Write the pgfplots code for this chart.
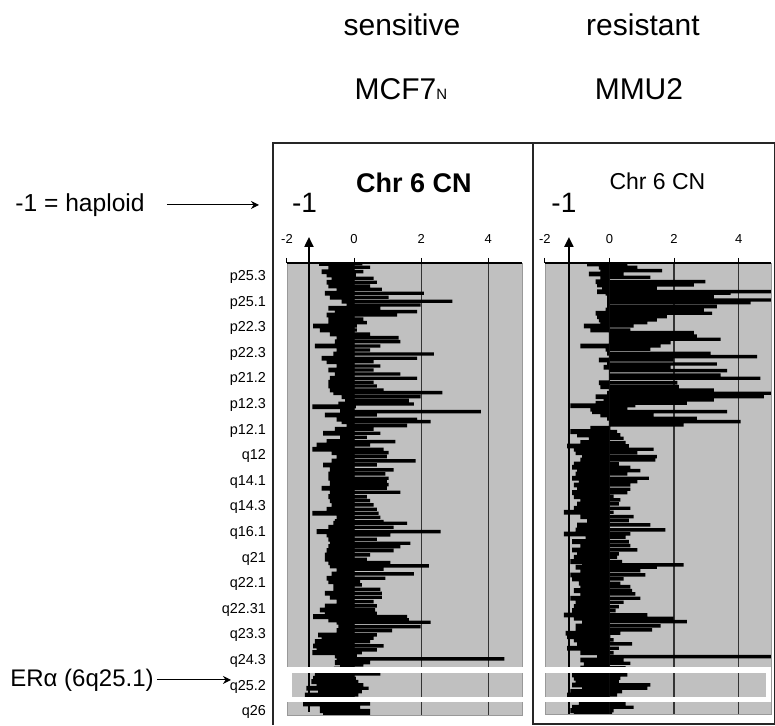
\documentclass[border=0pt]{standalone}
\usepackage{pgfplots}
\pgfplotsset{compat=1.18}
\usepackage{pgfplotstable}
\usepackage{fontspec}
\setmainfont{Liberation Sans}
\usetikzlibrary{arrows.meta}
\definecolor{panelgray}{HTML}{C0C0C0}

% copy-number profiles: y = row position (px of the figure), neg/pos = extent of the row
\pgfplotstableread{
y neg pos
263.5 -1.04 0.25
267.3 -0.77 0.48
271.7 -0.97 0.28
275.0 -0.82 0.05
278.3 -0.67 0.58
282.3 -0.82 0.68
286.0 -0.77 0.48
289.3 -0.52 0.83
293.3 -0.87 2.08
297.3 -0.72 1.03
301.3 -0.37 2.93
305.0 -0.22 1.98
308.3 -0.77 0.78
311.7 -0.57 1.88
315.0 -0.82 1.28
319.0 -0.77 0.28
322.7 -0.77 0.38
326.0 -1.22 0.08
330.0 -1.02 0.08
334.0 -0.72 0.48
337.7 -0.52 1.33
341.7 -0.57 1.38
346.0 -1.17 0.78
350.0 -0.52 0.48
354.0 -0.62 2.38
358.3 -0.97 1.88
361.7 -0.82 0.58
366.0 -0.52 0.78
370.0 -0.77 0.58
374.0 -0.57 1.38
378.3 -0.72 1.88
382.3 -0.77 0.58
386.0 -0.77 0.68
390.0 -0.72 0.88
392.7 -0.62 2.63
396.7 -0.37 1.98
400.7 -0.27 1.63
404.0 -0.47 1.78
406.7 -1.24 0.05
411.7 -0.42 3.78
415.0 -0.87 0.68
419.3 -0.52 1.88
421.7 -0.37 2.28
425.7 -0.22 1.58
429.3 -0.57 0.58
433.3 -0.92 0.78
437.3 -0.42 0.38
441.7 -0.82 1.23
445.0 -1.12 0.48
449.3 -1.24 0.88
452.7 -0.67 1.03
456.7 -0.52 0.98
461.0 -0.67 1.83
465.0 -0.92 0.68
470.0 -0.72 1.18
474.0 -0.77 0.93
478.3 -0.77 1.03
481.7 -0.72 0.98
484.7 -0.72 1.03
488.3 -0.97 0.98
492.3 -0.72 1.38
496.7 -0.77 0.38
500.7 -0.72 0.48
505.0 -0.67 0.58
509.3 -0.82 0.68
513.3 -1.24 0.73
517.3 -0.52 0.78
521.7 -0.57 0.88
523.3 -0.62 1.58
527.3 -0.77 1.18
531.7 -1.12 2.58
535.0 -0.82 1.08
539.3 -0.77 0.68
543.3 -0.72 1.68
546.7 -0.77 1.38
550.7 -0.82 1.18
555.0 -0.87 0.48
559.3 -0.87 0.38
562.7 -0.77 1.08
566.0 -0.72 2.23
569.3 -0.52 0.88
574.0 -0.67 1.78
578.3 -0.82 0.93
581.7 -0.77 0.18
585.0 -0.62 0.23
589.3 -0.62 0.78
593.3 -0.87 0.83
597.3 -0.72 0.83
601.7 -0.52 0.58
606.0 -0.87 0.68
610.0 -1.02 0.63
613.3 -0.87 0.68
616.7 -1.22 1.58
620.0 -0.77 1.63
622.3 -0.52 2.28
626.7 -0.47 1.98
630.7 -0.52 1.13
635.0 -1.07 0.68
638.3 -0.97 0.58
641.7 -1.17 0.48
646.0 -1.22 0.88
650.0 -1.12 0.68
652.7 -1.24 0.23
656.0 -0.57 0.08
659.0 -0.52 4.48
662.7 -0.57 0.48
665.0 -0.42 0.28
669.0 -0.60 0.30
674.0 -1.17 0.78
678.3 -1.22 0.05
681.7 -1.27 0.13
685.0 -1.12 0.28
688.3 -1.42 0.43
691.7 -1.07 0.23
695.0 -1.47 0.13
699.0 -1.00 0.30
704.0 -1.52 0.48
707.7 -1.02 0.18
710.7 -1.02 0.48
713.3 -0.92 0.48
}\leftcn

\pgfplotstableread{
y neg pos
264.0 -0.69 0.55
267.3 -0.33 0.86
270.7 -0.28 1.63
274.0 -0.64 0.44
277.3 -0.28 1.27
281.7 -0.43 2.97
285.0 -0.38 2.61
288.3 -0.23 1.47
291.7 -0.38 5.20
293.3 -0.12 3.75
296.7 -0.07 3.23
300.0 -0.07 5.20
302.7 -0.07 4.37
306.7 -0.07 3.33
310.0 -0.12 2.92
313.3 -0.43 3.18
316.7 -0.38 1.78
320.0 -0.33 1.47
322.7 -0.28 1.17
326.0 -0.79 0.75
330.0 -0.59 0.65
332.7 -0.02 2.61
336.0 -0.02 2.71
339.3 -0.02 3.44
342.7 -0.02 1.89
346.0 -0.90 1.58
349.3 -0.12 1.27
353.3 -0.07 3.13
356.7 -0.02 4.57
360.0 -0.33 1.99
364.0 -0.07 3.33
367.3 -0.18 1.89
370.7 -0.02 3.64
375.0 -0.02 3.44
378.3 -0.02 4.67
382.7 -0.33 2.10
386.7 -0.28 2.15
390.0 -0.02 3.23
393.3 -0.07 5.20
396.7 -0.43 4.78
400.0 -0.18 3.23
403.3 -0.43 2.40
405.7 -1.21 0.80
409.3 -0.59 0.55
411.7 -0.54 3.64
415.0 -0.28 1.37
418.3 -0.07 2.71
421.7 -0.02 4.06
425.0 -0.02 2.30
428.3 -0.59 0.03
431.7 -1.21 0.24
435.0 -1.00 0.34
438.3 -0.64 0.44
442.7 -0.90 0.50
446.0 -1.31 0.60
449.3 -1.10 1.37
452.7 -1.05 0.86
456.7 -0.85 1.47
460.0 -0.90 1.42
464.0 -1.10 0.29
467.3 -1.16 0.65
470.7 -1.00 0.96
474.0 -1.05 0.55
478.3 -1.16 1.22
481.7 -0.95 0.86
485.0 -1.10 0.65
489.3 -1.00 0.65
492.7 -1.16 0.55
496.7 -1.10 0.13
500.0 -0.90 0.34
504.0 -1.00 0.29
508.3 -1.10 0.65
512.3 -1.41 0.13
516.7 -0.90 0.75
520.7 -0.69 0.60
525.0 -1.00 1.27
530.0 -1.05 1.73
534.0 -1.41 0.65
537.3 -0.74 0.50
541.7 -1.16 0.60
545.7 -0.90 0.65
550.0 -1.16 0.86
554.0 -1.00 0.29
557.3 -1.10 0.24
561.7 -1.21 0.39
565.0 -0.85 2.30
567.3 -1.05 1.47
570.7 -0.90 0.96
575.0 -1.21 1.11
579.0 -1.16 0.44
583.3 -0.95 0.34
586.7 -0.90 0.65
590.7 -1.10 0.70
594.0 -0.90 0.80
598.3 -1.21 0.96
602.3 -1.05 0.44
606.7 -1.10 0.29
610.7 -1.16 0.19
615.0 -1.41 1.17
618.3 -1.10 1.99
621.7 -0.85 2.40
626.0 -1.05 1.58
630.0 -1.05 1.32
633.3 -1.36 0.34
636.7 -1.31 0.03
640.0 -1.10 0.13
644.0 -1.00 0.70
648.3 -1.31 0.29
652.7 -0.90 0.13
656.7 -0.38 5.20
660.0 -0.90 0.44
663.3 -0.79 0.65
668.0 -0.90 0.50
675.0 -1.16 0.55
678.3 -1.10 0.34
681.7 -1.05 0.29
685.0 -1.16 1.27
688.3 -0.85 1.17
691.7 -1.21 0.39
695.0 -1.31 0.24
699.0 -1.00 0.40
704.0 -0.95 0.50
707.3 -1.16 0.75
710.7 -1.21 0.13
713.3 -1.10 0.08
}\rightcn

\pgfplotsset{
  cnpanel/.style={
    scale only axis, anchor=north west,
    xmin=-2, xmax=5, y dir=reverse,
    axis background/.style={fill=panelgray},
    axis line style={draw=black!40, line width=0.4pt},
    xtick={0,2,4}, extra x ticks={-2}, extra x tick style={grid=none},
    xtick pos=upper, xticklabel pos=upper,
    tick align=outside, major tick length=2.5pt,
    tick style={black, line width=0.5pt},
    xticklabel style={font=\fontsize{6.5}{7}\selectfont, yshift=3.5pt},
    /pgf/number format/assume math mode=true,
    xmajorgrids, major grid style={draw=black!80, line width=0.6pt},
    ytick style={draw=none},
  },
  negbar/.style={xbar, bar width=4.8, bar shift=0pt, fill=black, draw=none},
  posbar/.style={xbar, bar width=3.4, bar shift=0pt, fill=black, draw=none},
}

\begin{document}
\begin{tikzpicture}
\begin{scope}[x=0.5pt,y=-0.5pt]
\path[use as bounding box] (0,0) rectangle (775,725);
\end{scope}

\begin{axis}[cnpanel,
  at={(143.5pt,-131.5pt)}, width=117.5pt, height=226pt,
  ymin=263, ymax=715,
  ytick={277,302.6,328.2,353.8,379.4,405,430.6,456.2,481.8,507.4,533,558.6,584.2,609.8,635.4,661,686.6,712.2},
  yticklabels={p25.3,p25.1,p22.3,p22.3,p21.2,p12.3,p12.1,q12,q14.1,q14.3,q16.1,q21,q22.1,q22.31,q23.3,q24.3,q25.2,q26},
  yticklabel style={font=\fontsize{7.2}{8}\selectfont, xshift=-4.5pt},
  ytick pos=left,
]
\addplot[negbar] table[x=neg, y=y] {\leftcn};
\addplot[posbar] table[x=pos, y=y] {\leftcn};
\end{axis}

\begin{axis}[cnpanel,
  at={(272.5pt,-131.5pt)}, width=113pt, height=225.5pt,
  ymin=263, ymax=714, ytick=\empty,
]
\addplot[negbar] table[x=neg, y=y] {\rightcn};
\addplot[posbar] table[x=pos, y=y] {\rightcn};
\end{axis}

\begin{scope}[x=0.5pt,y=-0.5pt]
% top axis lines
\draw[black, line width=0.6pt] (287,263) -- (522,263);
\draw[black, line width=0.6pt] (545,263) -- (771,263);
% -1 arrows
\draw[line width=1pt, -{Triangle[length=5pt,width=4.5pt]}] (309,712) -- (309,237);
\draw[line width=1pt, -{Triangle[length=5pt,width=4.5pt]}] (569,714) -- (569,237);
% ER alpha band
\draw[white, line width=2.75pt] (289.5,670) rectangle (768.7,699.7);
% panel frames
\draw[black!85, line width=0.6pt] (273,725) -- (273,143) -- (533,143);
\draw[black!85, line width=0.6pt] (533,143) rectangle (774.5,724);
% headers
\node[anchor=base, font=\fontsize{15}{18}\selectfont] at (402,36) {sensitive};
\node[anchor=base, font=\fontsize{15}{18}\selectfont] at (643,36) {resistant};
\node[anchor=base, font=\fontsize{15}{18}\selectfont] at (401,100) {MCF7{\fontsize{7.5}{8}\selectfont N}};
\node[anchor=base, font=\fontsize{15}{18}\selectfont] at (639,100) {MMU2};
\node[anchor=base, font=\bfseries\fontsize{13.5}{16}\selectfont] at (414,193) {Chr 6 CN};
\node[anchor=base, font=\fontsize{11.5}{14}\selectfont] at (657.5,190) {Chr 6 CN};
\node[anchor=base, font=\fontsize{14}{16}\selectfont] at (304.5,213) {-1};
\node[anchor=base, font=\fontsize{14}{16}\selectfont] at (564,213) {-1};
% left annotations
\node[anchor=base west, inner sep=0pt, font=\fontsize{12.3}{14}\selectfont] at (15,212) {-1 = haploid};
\draw[line width=0.5pt, -{Stealth[length=4pt,width=4pt]}] (167,205) -- (259,205);
\node[anchor=base west, inner sep=0pt, font=\fontsize{12}{14}\selectfont] at (10,687) {ERα (6q25.1)};
\draw[line width=0.5pt, -{Stealth[length=4pt,width=4pt]}] (157,680) -- (231,680);
\end{scope}
\end{tikzpicture}
\end{document}
